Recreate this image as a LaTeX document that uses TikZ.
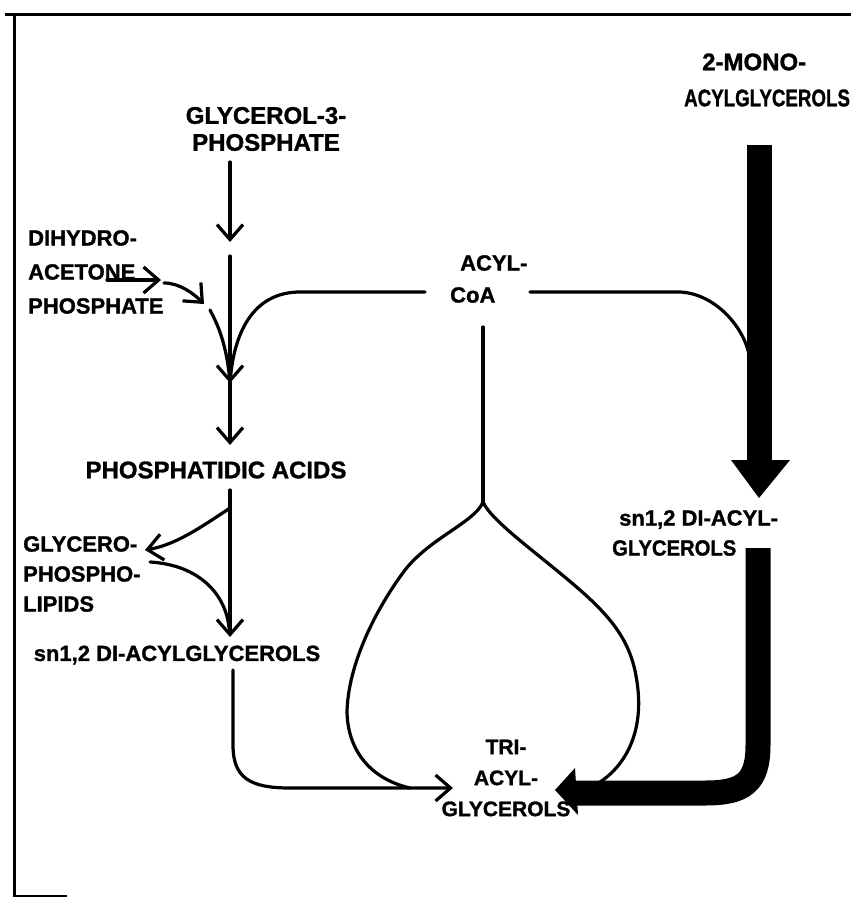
\documentclass[tikz,border=0pt]{standalone}
\usepackage{fontspec}
\setmainfont{Liberation Sans}[BoldFeatures={FakeBold=1.3}]
\usepackage{graphicx}
\usetikzlibrary{arrows.meta}
\begin{document}
\begin{tikzpicture}[x=1pt,y=-1pt,
  lbl/.style={font=\fontsize{22}{30}\selectfont\bfseries, inner sep=0pt},
  ln/.style={line width=3.2pt, line cap=round, line join=round},
  arr/.style={ln, -{Straight Barb[length=15pt,width=26pt]}},
  frame/.style={line width=3pt},
  thick/.style={line width=25pt},
]
\useasboundingbox (0,0) rectangle (851,897);
% frame
\draw[frame] (5,14) -- (851,14);
\draw[frame] (14,14) -- (14,897);
\draw[frame] (14,896) -- (67,896);

% labels
\node[lbl, align=center, font=\fontsize{24}{27}\selectfont\bfseries] (g3p) at (266,129) {GLYCEROL-3-\\PHOSPHATE};
\node[lbl, align=left, anchor=west, font=\fontsize{24}{36}\selectfont\bfseries] (mag) at (684,80) {\hspace*{18pt}2-MONO-\\\scalebox{0.78}[1]{ACYLGLYCEROLS}};
\node[lbl, align=left, anchor=west, font=\fontsize{22}{34}\selectfont\bfseries] (dhap) at (28,272) {DIHYDRO-\\ACETONE\\PHOSPHATE};
\node[lbl, align=left, anchor=west, font=\fontsize{22}{32}\selectfont\bfseries] (acyl) at (450,279) {\hspace*{10pt}ACYL-\\CoA};
\node[lbl, font=\fontsize{24}{30}\selectfont\bfseries] (pa) at (216,470) {PHOSPHATIDIC ACIDS};
\node[lbl, align=left, anchor=west, font=\fontsize{22}{30}\selectfont\bfseries] (gpl) at (23,574) {GLYCERO-\\PHOSPHO-\\LIPIDS};
\node[lbl, font=\fontsize{22}{30}\selectfont\bfseries] (dag) at (177,655) {sn1,2 DI-ACYLGLYCEROLS};
\node[lbl, align=left, anchor=west, font=\fontsize{22}{30}\selectfont\bfseries] (dagb) at (612,533) {\hspace*{7pt}sn1,2 DI-ACYL-\\\scalebox{0.92}[1]{GLYCEROLS}};
\node[lbl, align=center, font=\fontsize{21}{31}\selectfont\bfseries] (tag) at (506,778) {TRI-\\ACYL-\\GLYCEROLS};

% coordinates
\coordinate (g3pout) at (230,162);
\coordinate (g3pin) at (230,242);
\coordinate (vstart) at (230,256);
\coordinate (merge) at (230,383);
\coordinate (paIn) at (230,445);
\coordinate (dhapOut) at (107,280);
\coordinate (dhapArr) at (161,280);
\coordinate (c1s) at (164,283);
\coordinate (c1e) at (204,304);
\coordinate (c2s) at (210,310);
\coordinate (acylL) at (425,292);
\coordinate (acylR) at (530,292);
\coordinate (acylD) at (483,327);
\coordinate (fork) at (483,502);
\coordinate (paOut) at (230,490);
\coordinate (paSplit) at (230,508);
\coordinate (gplIn) at (145,550);
\coordinate (gplOut) at (150,562);
\coordinate (dagIn) at (230,637);
\coordinate (dagOut) at (233,670);
\coordinate (tagIn) at (453,788);
\coordinate (magOut) at (759,145);
\coordinate (dagbIn) at (759,498);
\coordinate (dagbOut) at (758,548);
\coordinate (tagInR) at (555,790);

% glycerol-3-phosphate arrow
\draw[arr] (g3pout) -- (g3pin);
% main vertical with two arrowheads
\draw[arr] (vstart) -- (merge);
\draw[arr] (merge) -- (paIn);
% DHAP arrows
\draw[arr] (dhapOut) -- (dhapArr);
\draw[arr] (c1s) .. controls (180,283) and (194,294) .. (c1e);
\draw[ln] (c2s) .. controls (218,325) and (227,345) .. (merge);
% acyl-CoA left branch
\draw[ln] (acylL) -- (300,292) .. controls (258,292) and (234,325) .. (merge);
% acyl-CoA right branch into thick arrow
\draw[ln] (acylR) -- (678,292) .. controls (715,292) and (748,330) .. (750,362);
% acyl-CoA down to teardrop
\draw[ln] (acylD) -- (fork);
\draw[ln] (fork) .. controls (475,522) and (430,538) .. (405,570)
  .. controls (375,610) and (348,665) .. (347,712)
  .. controls (348,755) and (375,780) .. (410,788);
\draw[ln] (fork) .. controls (492,522) and (540,555) .. (580,590)
  .. controls (620,625) and (634,650) .. (638,690)
  .. controls (642,730) and (628,765) .. (597,784);
% phosphatidic acids to glycerophospholipids and DAG
\draw[arr] (paOut) -- (dagIn);
\draw[arr] (paSplit) .. controls (200,528) and (175,545) .. (gplIn);
\draw[ln] (gplOut) .. controls (200,565) and (226,595) .. (229,628);
% DAG to TAG
\draw[arr] (dagOut) -- (233,745) .. controls (233,778) and (250,788) .. (290,788) -- (tagIn);

% thick arrows
\draw[thick] (magOut) -- (759,462);
\fill (731,460) -- (790,460) -- (dagbIn) -- cycle;
\draw[thick] (dagbOut) -- (758,745) .. controls (758,783) and (743,793) .. (705,793) -- (574,793);
\fill (575,768) -- (tagInR) -- (578,815) -- cycle;
\end{tikzpicture}
\end{document}
